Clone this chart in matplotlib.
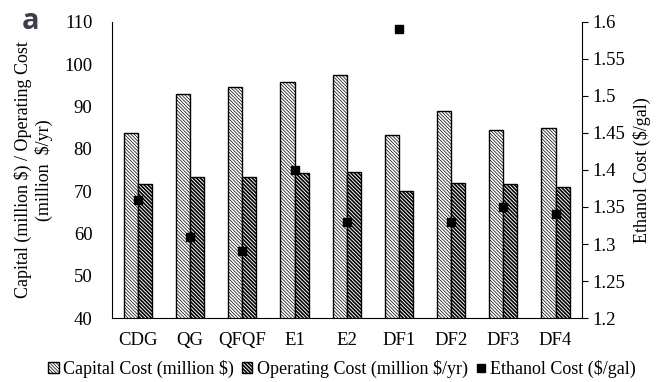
import matplotlib.pyplot as plt
import numpy as np
from matplotlib.patches import Patch
from matplotlib.lines import Line2D

cases = ['CDG', 'QG', 'QFQF', 'E1', 'E2', 'DF1', 'DF2', 'DF3', 'DF4']
capital = [83.7, 92.9, 94.6, 95.8, 97.4, 83.3, 88.9, 84.4, 84.9]
operating = [71.6, 73.3, 73.3, 74.3, 74.5, 70.0, 71.9, 71.6, 71.0]
ethanol = [1.36, 1.31, 1.29, 1.40, 1.33, 1.59, 1.33, 1.35, 1.34]

plt.rcParams['font.family'] = 'Liberation Serif'
plt.rcParams['hatch.linewidth'] = 0.5

cap_hatch = '\\' * 10
op_hatch = '\\' * 9


def thick_hatch(patches, lw):
    for p in patches:
        if hasattr(p, 'set_hatch_linewidth'):
            p.set_hatch_linewidth(lw)


fig = plt.figure(figsize=(6.58, 3.82), dpi=100)
ax = fig.add_axes([0.170, 0.1675, 0.714, 0.775])

x = np.arange(len(cases))
w = 0.27
ax.bar(x - w / 2, capital, w, color='white', edgecolor='black',
       hatch=cap_hatch, linewidth=1.0)
op_bars = ax.bar(x + w / 2, operating, w, color='white', edgecolor='black',
                 hatch=op_hatch, linewidth=1.0)
thick_hatch(op_bars, 1.2)

ax.set_ylim(40, 110)
ax.set_xlim(-0.5, len(cases) - 0.5)
ax.set_yticks(range(40, 111, 10))
ax.set_xticks(x)
ax.set_xticklabels(cases)
ax.tick_params(axis='both', length=0, labelsize=13.5, pad=10)
ax.tick_params(axis='y', pad=14)
ax.spines['top'].set_visible(False)
ax.spines['right'].set_visible(False)
ax.set_ylabel('Capital (million $) / Operating Cost\n(million  $/yr)', fontsize=13,
              labelpad=8)

ax2 = ax.twinx()
ax2.plot(x, ethanol, 's', color='black', markersize=6, linestyle='none')
ax2.set_ylim(1.2, 1.6)
ax2.set_yticks([1.2, 1.25, 1.3, 1.35, 1.4, 1.45, 1.5, 1.55, 1.6])
ax2.set_yticklabels(['1.2', '1.25', '1.3', '1.35', '1.4', '1.45', '1.5', '1.55', '1.6'])
ax2.tick_params(axis='y', direction='out', length=4, labelsize=13.5)
ax2.spines['top'].set_visible(False)
ax2.spines['left'].set_visible(False)
ax2.spines['bottom'].set_visible(False)
ax2.set_ylabel('Ethanol Cost ($/gal)', fontsize=13, labelpad=6)

op_patch = Patch(facecolor='white', edgecolor='black', hatch=op_hatch,
                 label='Operating Cost (million $/yr)')
handles = [
    Patch(facecolor='white', edgecolor='black', hatch=cap_hatch, label='Capital Cost (million $)'),
    op_patch,
    Line2D([], [], marker='s', color='black', linestyle='none', markersize=6, label='Ethanol Cost ($/gal)'),
]
leg = fig.legend(handles=handles, loc='lower center', bbox_to_anchor=(0.52, -0.032), ncol=3,
                 frameon=False, fontsize=13, handlelength=0.6, handleheight=0.6,
                 handletextpad=0.25, columnspacing=0.4)
thick_hatch(leg.get_patches()[1:2], 1.2)

fig.text(0.033, 0.925, 'a', fontsize=21, fontweight='bold', color='#3d3d4d',
         family='Open Sans')

fig.savefig('out.png', dpi=100)
